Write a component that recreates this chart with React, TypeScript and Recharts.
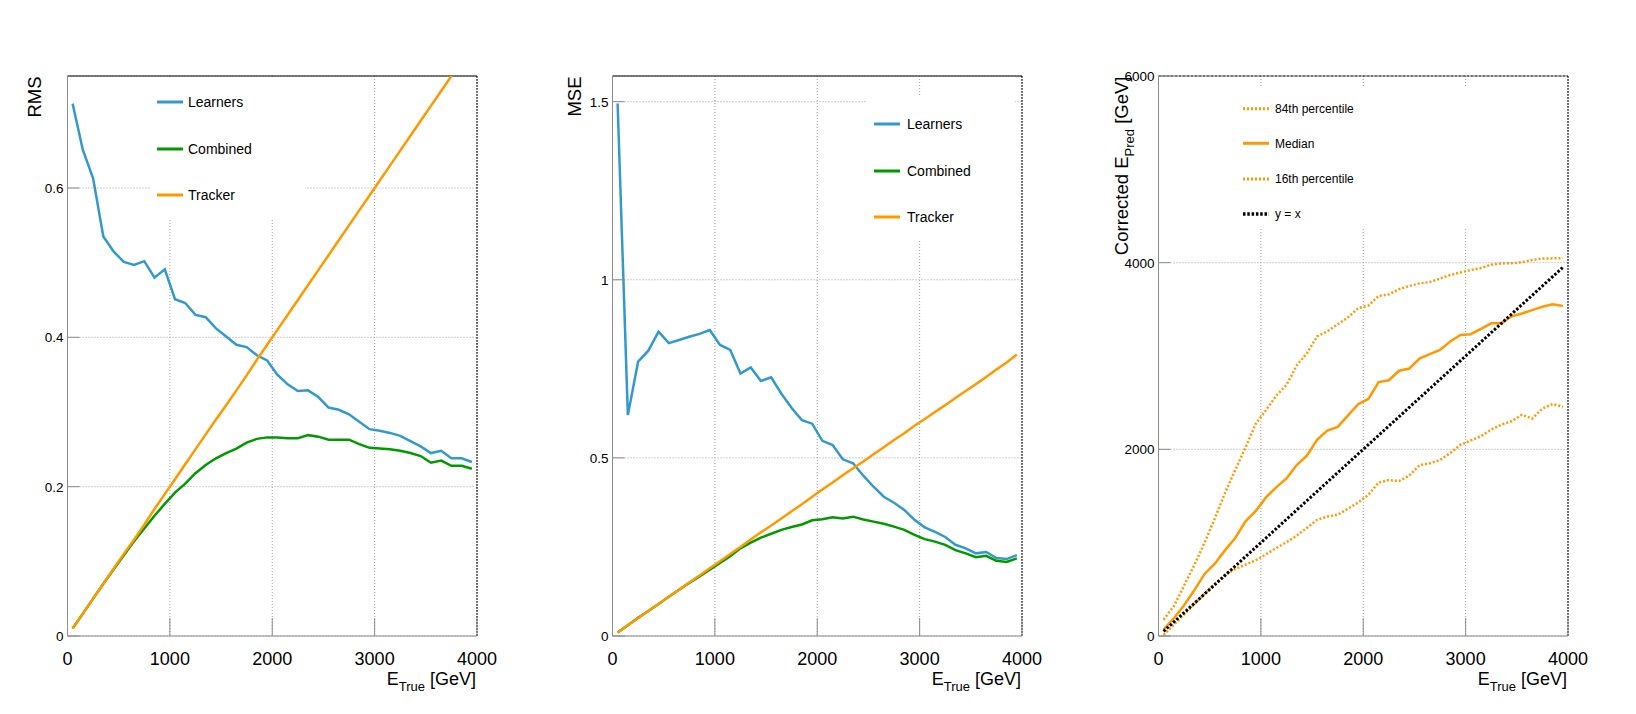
import React from 'react';
import { LineChart, Line, XAxis, YAxis, CartesianGrid, ReferenceLine } from 'recharts';

const FONT = '"Liberation Sans", Arial, Helvetica, sans-serif';
const BLUE = '#3399cc';
const GREEN = '#009900';
const ORANGE = '#ff9900';
const AXIS_GREY = '#8c8c8c';
const GRID_GREY = '#a0a0a0';

// bin centres in GeV
const ENERGY = [
  50, 150, 250, 350, 450, 550, 650, 750, 850, 950,
  1050, 1150, 1250, 1350, 1450, 1550, 1650, 1750, 1850, 1950,
  2050, 2150, 2250, 2350, 2450, 2550, 2650, 2750, 2850, 2950,
  3050, 3150, 3250, 3350, 3450, 3550, 3650, 3750, 3850, 3950,
];
const E_TICKS = [0, 1000, 2000, 3000, 4000];

// left pad: RMS
const RMS_TICKS = [0, 0.2, 0.4, 0.6];
const RMS_LEARNERS = [
  0.713, 0.651, 0.613, 0.535, 0.515, 0.501, 0.497, 0.502, 0.480, 0.491,
  0.451, 0.446, 0.430, 0.427, 0.412, 0.401, 0.390, 0.387, 0.376, 0.369,
  0.350, 0.337, 0.328, 0.329, 0.320, 0.306, 0.303, 0.297, 0.287, 0.277,
  0.275, 0.272, 0.268, 0.261, 0.254, 0.245, 0.248, 0.238, 0.238, 0.233,
];
const RMS_COMBINED = [
  0.010, 0.030, 0.050, 0.070, 0.089, 0.108, 0.127, 0.144, 0.161, 0.177,
  0.192, 0.204, 0.218, 0.229, 0.238, 0.245, 0.251, 0.259, 0.264, 0.266,
  0.266, 0.265, 0.265, 0.269, 0.267, 0.263, 0.263, 0.263, 0.257, 0.252,
  0.251, 0.250, 0.248, 0.245, 0.241, 0.232, 0.235, 0.228, 0.228, 0.224,
];
const RMS_TRACKER = [
  0.010, 0.030, 0.050, 0.070, 0.090, 0.110, 0.129, 0.149, 0.170, 0.190,
  0.210, 0.230, 0.250, 0.270, 0.290, 0.309, 0.329, 0.349, 0.370, 0.390,
  0.410, 0.430, 0.450, 0.470, 0.490, 0.510, 0.530, 0.550, 0.570, 0.590,
  0.610, 0.630, 0.650, 0.670, 0.690, 0.710, 0.730, 0.750, 0.770, 0.790,
];

// middle pad: MSE
const MSE_TICKS = [0, 0.5, 1, 1.5];
const MSE_LEARNERS = [
  1.495, 0.620, 0.770, 0.801, 0.854, 0.822, 0.831, 0.840, 0.848, 0.859,
  0.817, 0.803, 0.737, 0.754, 0.716, 0.726, 0.680, 0.640, 0.606, 0.596,
  0.548, 0.536, 0.496, 0.485, 0.450, 0.419, 0.391, 0.374, 0.354, 0.326,
  0.305, 0.292, 0.278, 0.256, 0.246, 0.232, 0.236, 0.219, 0.216, 0.227,
];
const MSE_COMBINED = [
  0.010, 0.030, 0.051, 0.070, 0.090, 0.110, 0.130, 0.149, 0.167, 0.186,
  0.205, 0.224, 0.246, 0.262, 0.276, 0.287, 0.298, 0.306, 0.313, 0.325,
  0.328, 0.333, 0.330, 0.335, 0.327, 0.321, 0.315, 0.307, 0.298, 0.284,
  0.272, 0.265, 0.256, 0.241, 0.232, 0.221, 0.225, 0.211, 0.208, 0.218,
];
const MSE_TRACKER = [
  0.010, 0.030, 0.050, 0.070, 0.090, 0.110, 0.130, 0.150, 0.170, 0.190,
  0.210, 0.230, 0.250, 0.271, 0.291, 0.310, 0.330, 0.350, 0.370, 0.391,
  0.411, 0.431, 0.451, 0.471, 0.490, 0.510, 0.530, 0.550, 0.569, 0.590,
  0.609, 0.629, 0.648, 0.668, 0.688, 0.707, 0.727, 0.748, 0.768, 0.790,
];

// right pad: corrected prediction vs true energy
const EPRED_TICKS = [0, 2000, 4000, 6000];
const EPRED_P84 = [
  175, 320, 540, 760, 1000, 1260, 1535, 1780, 2020, 2275,
  2420, 2575, 2690, 2900, 3030, 3210, 3265, 3340, 3412, 3512,
  3540, 3644, 3660, 3716, 3750, 3778, 3792, 3830, 3868, 3895,
  3922, 3942, 3978, 3992, 3994, 4005, 4028, 4045, 4046, 4046,
];
const EPRED_MEDIAN = [
  70, 190, 330, 490, 665, 775, 920, 1050, 1228, 1340,
  1485, 1592, 1688, 1832, 1932, 2105, 2200, 2240, 2362, 2484,
  2540, 2720, 2740, 2842, 2866, 2972, 3020, 3065, 3155, 3226,
  3234, 3290, 3350, 3352, 3425, 3455, 3492, 3528, 3555, 3536,
];
const EPRED_P16 = [
  12, 120, 230, 340, 452, 560, 655, 718, 765, 812,
  875, 942, 1005, 1075, 1160, 1245, 1280, 1300, 1363, 1430,
  1512, 1645, 1670, 1660, 1720, 1830, 1850, 1886, 1960, 2050,
  2095, 2140, 2212, 2265, 2302, 2370, 2330, 2436, 2486, 2457,
];
const EPRED_IDEAL = [
  50, 150, 250, 350, 450, 550, 650, 750, 850, 950,
  1050, 1150, 1250, 1350, 1450, 1550, 1650, 1750, 1850, 1950,
  2050, 2150, 2250, 2350, 2450, 2550, 2650, 2750, 2850, 2950,
  3050, 3150, 3250, 3350, 3450, 3550, 3650, 3750, 3850, 3950,
];

const rmsRows = ENERGY.map((e, i) => ({
  e, learners: RMS_LEARNERS[i], combined: RMS_COMBINED[i], tracker: RMS_TRACKER[i],
}));
const mseRows = ENERGY.map((e, i) => ({
  e, learners: MSE_LEARNERS[i], combined: MSE_COMBINED[i], tracker: MSE_TRACKER[i],
}));
const predRows = ENERGY.map((e, i) => ({
  e, p84: EPRED_P84[i], median: EPRED_MEDIAN[i], p16: EPRED_P16[i], ideal: EPRED_IDEAL[i],
}));

const W = 545;
const H = 714;
const MARGIN = { top: 76, right: 68, bottom: 38, left: 7.5 };

const SCORE_SERIES = [
  { key: 'learners', name: 'Learners', color: BLUE, width: 2.5 },
  { key: 'combined', name: 'Combined', color: GREEN, width: 2.5 },
  { key: 'tracker', name: 'Tracker', color: ORANGE, width: 2.5 },
];
const PRED_SERIES = [
  { key: 'p84', name: '84th percentile', color: ORANGE, width: 2.5, dash: '2 2' },
  { key: 'median', name: 'Median', color: ORANGE, width: 2.5 },
  { key: 'p16', name: '16th percentile', color: ORANGE, width: 2.5, dash: '2 2' },
  { key: 'ideal', name: 'y = x', color: '#000', width: 3, dash: '2.5 1.8' },
];

const XTick = (props: any) => {
  const { x, y, payload } = props;
  return (
    <g>
      <line x1={x} x2={x} y1={y} y2={y - 18} stroke={AXIS_GREY} />
      <text x={x} y={y + 29} textAnchor="middle" fontSize={18} fontFamily={FONT} fill="#000">
        {payload.value}
      </text>
    </g>
  );
};

const YTick = (props: any) => {
  const { x, y, payload } = props;
  return (
    <g>
      <line x1={x} x2={x + 12} y1={y} y2={y} stroke={AXIS_GREY} />
      <text x={x - 4} y={y} dy="0.36em" textAnchor="end" fontSize={13.5} fontFamily={FONT} fill="#000">
        {String(payload.value)}
      </text>
    </g>
  );
};

const xTitle = (props: any) => {
  const { viewBox } = props;
  return (
    <text
      x={viewBox.x + viewBox.width - 1}
      y={viewBox.y + 48.5}
      textAnchor="end"
      fontSize={18}
      fontFamily={FONT}
      fill="#000"
      style={{ whiteSpace: 'pre' }}
    >
      E<tspan fontSize={13} dy={6}>True</tspan>
      <tspan dy={-6}> [GeV]</tspan>
    </text>
  );
};

const yTitle = (baseX: number, content: React.ReactNode) => (props: any) => {
  const y = props.viewBox.y + 0.5;
  return (
    <text
      x={baseX}
      y={y}
      transform={`rotate(-90 ${baseX} ${y})`}
      textAnchor="end"
      fontSize={18.5}
      fontFamily={FONT}
      fill="#000"
      style={{ whiteSpace: 'pre' }}
    >
      {content}
    </text>
  );
};

function LegendBox({ box, items }: { box: any; items: any[] }) {
  return (
    <svg
      width={box.width}
      height={box.height}
      style={{ position: 'absolute', left: box.left, top: box.top }}
    >
      <rect width={box.width} height={box.height} fill="#fff" />
      {items.map((s, i) => (
        <g key={s.key}>
          <line
            x1={box.sampleX}
            x2={box.sampleX + 26}
            y1={box.rows[i]}
            y2={box.rows[i]}
            stroke={s.color}
            strokeWidth={s.width + 0.5}
            strokeDasharray={s.dash}
          />
          <text x={box.textX} y={box.rows[i]} dy="0.36em" fontSize={box.fontSize} fontFamily={FONT} fill="#000">
            {s.name}
          </text>
        </g>
      ))}
    </svg>
  );
}

function Panel(props: any) {
  const { left, rows, yDomain, yTicks, series, title, legend, topDash } = props;
  return (
    <div style={{ position: 'absolute', left, top: 0, width: W, height: H }}>
      <LineChart width={W} height={H} data={rows} margin={MARGIN}>
        <CartesianGrid stroke={GRID_GREY} strokeDasharray="1 2" />
        <XAxis
          type="number"
          dataKey="e"
          domain={[0, 4000]}
          ticks={E_TICKS}
          interval={0}
          height={40}
          tickSize={0}
          tickMargin={0}
          tickLine={false}
          axisLine={{ stroke: AXIS_GREY }}
          tick={<XTick />}
          label={{ content: xTitle }}
        />
        <YAxis
          type="number"
          domain={yDomain}
          ticks={yTicks}
          interval={0}
          allowDataOverflow
          width={60}
          tickSize={0}
          tickMargin={0}
          tickLine={false}
          axisLine={{ stroke: AXIS_GREY }}
          tick={<YTick />}
          label={{ content: title }}
        />
        <ReferenceLine y={yDomain[1]} stroke="#000" strokeDasharray={topDash} />
        <ReferenceLine x={4000} stroke="#000" strokeDasharray="2 1" />
        {series.map((s: any) => (
          <Line
            key={s.key}
            type="linear"
            dataKey={s.key}
            name={s.name}
            stroke={s.color}
            strokeWidth={s.width}
            strokeDasharray={s.dash}
            dot={false}
            activeDot={false}
            isAnimationActive={false}
          />
        ))}
      </LineChart>
      <LegendBox box={legend} items={series} />
    </div>
  );
}

export default function App() {
  return (
    <div style={{ position: 'fixed', left: 0, top: 0, width: 1636, height: 714, background: '#fff', fontFamily: FONT }}>
      <Panel
        left={0}
        rows={rmsRows}
        yDomain={[0, 0.75]}
        yTicks={RMS_TICKS}
        series={SCORE_SERIES}
        topDash={undefined}
        title={yTitle(40.7, 'RMS')}
        legend={{ left: 150, top: 77, width: 155, height: 143, rows: [25, 72, 118], fontSize: 14, sampleX: 7, textX: 38 }}
      />
      <Panel
        left={545}
        rows={mseRows}
        yDomain={[0, 1.572]}
        yTicks={MSE_TICKS}
        series={SCORE_SERIES}
        topDash={undefined}
        title={yTitle(36, 'MSE')}
        legend={{ left: 322, top: 97, width: 148, height: 143, rows: [27, 74, 120], fontSize: 14, sampleX: 7, textX: 40 }}
      />
      <Panel
        left={1091}
        rows={predRows}
        yDomain={[0, 6000]}
        yTicks={EPRED_TICKS}
        series={PRED_SERIES}
        topDash="3 1"
        title={yTitle(36.5, (
          <>
            Corrected E<tspan fontSize={13} dy={6}>Pred</tspan>
            <tspan dy={-6}> [GeV]</tspan>
          </>
        ))}
        legend={{ left: 145, top: 88, width: 245, height: 140, rows: [20.7, 55.3, 91, 126], fontSize: 12, sampleX: 7, textX: 39 }}
      />
    </div>
  );
}
